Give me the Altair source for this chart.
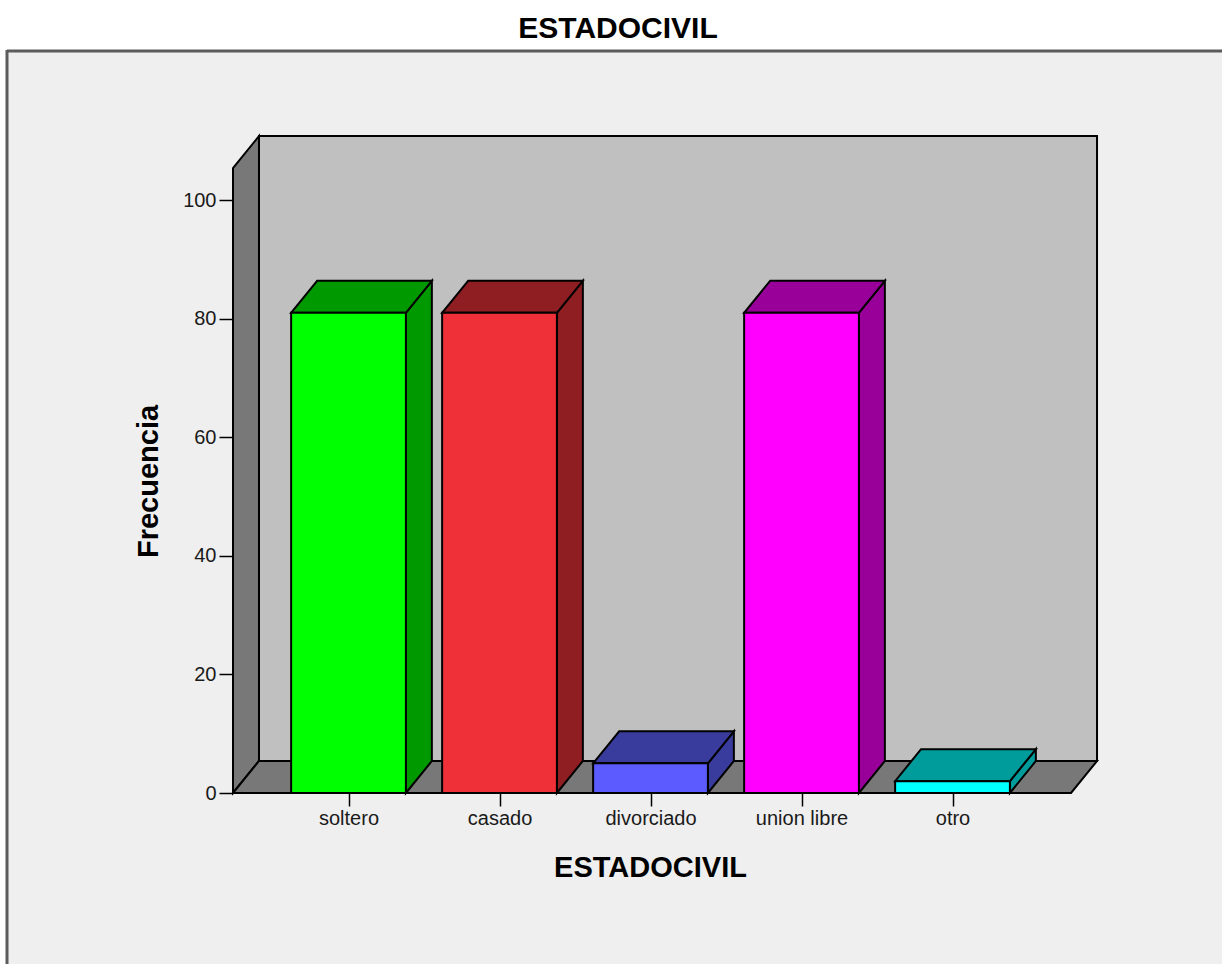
import json

import altair as alt
import pandas as pd

# Frequencies of marital status
categorias = ["soltero", "casado", "divorciado", "union libre", "otro"]
frecuencias = [81, 81, 5, 81, 2]
color_frente = ["#00ff00", "#ef3039", "#5b5bff", "#ff00ff", "#00ffff"]
color_cara = ["#009a00", "#8e1e22", "#393c9c", "#990099", "#009c9c"]
marcas_y = [0, 20, 40, 60, 80, 100]

# Geometry of the 3-D box, in axis units (x: category steps, y: frequency)
PRIMER_CENTRO = 0.765   # centre of the first bar, measured from the left wall
MEDIO_ANCHO = 0.38      # half width of a bar
PROF_X = 0.172          # depth offset along x
PROF_Y = 5.4            # depth offset along y
PISO_FIN = 5.55         # right end of the floor's front edge
PARED_ALTO = 105.4      # height of the left wall's front edge

FUENTE = "Liberation Sans"

centros = [PRIMER_CENTRO + i for i in range(len(categorias))]

# front faces of the bars
frente = pd.DataFrame({
    "categoria": categorias,
    "x0": [c - MEDIO_ANCHO for c in centros],
    "x1": [c + MEDIO_ANCHO for c in centros],
    "base": [0] * len(categorias),
    "frecuencia": frecuencias,
    "color": color_frente,
})

# top faces: parallelograms with horizontal edges
tapas_filas = []
for i, (c, v, col) in enumerate(zip(centros, frecuencias, color_cara)):
    tapas_filas.append({"id": i, "y": v, "xa": c - MEDIO_ANCHO, "xb": c + MEDIO_ANCHO, "color": col})
    tapas_filas.append({"id": i, "y": v + PROF_Y, "xa": c - MEDIO_ANCHO + PROF_X,
                        "xb": c + MEDIO_ANCHO + PROF_X, "color": col})
tapas = pd.DataFrame(tapas_filas)

# right side faces: parallelograms with vertical edges
lados_filas = []
for i, (c, v, col) in enumerate(zip(centros, frecuencias, color_cara)):
    lados_filas.append({"id": i, "x": c + MEDIO_ANCHO, "ya": 0, "yb": v, "color": col})
    lados_filas.append({"id": i, "x": c + MEDIO_ANCHO + PROF_X, "ya": PROF_Y,
                        "yb": v + PROF_Y, "color": col})
lados = pd.DataFrame(lados_filas)

piso = pd.DataFrame({
    "y": [0, PROF_Y],
    "xa": [0, PROF_X],
    "xb": [PISO_FIN, PISO_FIN + PROF_X],
})
pared_izq = pd.DataFrame({
    "x": [0, PROF_X],
    "ya": [0, PROF_Y],
    "yb": [PARED_ALTO, PARED_ALTO + PROF_Y],
})
pared_fondo = pd.DataFrame({
    "x0": [PROF_X], "x1": [PISO_FIN + PROF_X],
    "y0": [PROF_Y], "y1": [PARED_ALTO + PROF_Y],
})

xs = alt.Scale(domain=[0, 6], nice=False, zero=False)
ys = alt.Scale(domain=[0, 112], nice=False, zero=False)

etiquetas_x = f"{json.dumps(categorias)}[round(datum.value - {PRIMER_CENTRO})]"

eje_comun = dict(
    domain=False, grid=False, ticks=True, tickColor="black", tickWidth=1.5,
    labelFont=FUENTE, labelFontSize=20, labelColor="#1a1a1a",
    titleFont=FUENTE, titleFontSize=29, titleFontWeight="bold", titleColor="black",
    titleAlign="center", titleBaseline="middle", labelFlush=False,
)
# the same axis definition is given to every layer so that they merge cleanly
eje_x = alt.Axis(
    values=centros, labelExpr=etiquetas_x, title="ESTADOCIVIL",
    tickSize=13, labelPadding=2, labelOverlap=False,
    titleX=417, titleY=74, **eje_comun,
)
eje_y = alt.Axis(
    values=marcas_y, title="Frecuencia", tickSize=14, labelPadding=3,
    titleX=-85, titleY=352, titleAngle=270, **eje_comun,
)

BORDE = dict(stroke="black", strokeWidth=2, strokeJoin="miter")
uno = pd.DataFrame({"k": [0]})

# white margin above and to the left of the grey panel, and the panel's border
franja_sup = alt.Chart(uno).mark_rect(fill="white").encode(
    x=alt.value(-240), x2=alt.value(1000), y=alt.value(-140), y2=alt.value(-78)
)
franja_izq = alt.Chart(uno).mark_rect(fill="white").encode(
    x=alt.value(-240), x2=alt.value(-226), y=alt.value(-78), y2=alt.value(860)
)
borde_sup = alt.Chart(uno).mark_rule(color="#5c5c5c", strokeWidth=3).encode(
    x=alt.value(-226), x2=alt.value(1000), y=alt.value(-78)
)
borde_izq = alt.Chart(uno).mark_rule(color="#5c5c5c", strokeWidth=3).encode(
    x=alt.value(-226), y=alt.value(-79), y2=alt.value(860)
)
titulo = alt.Chart(uno).mark_text(
    text="ESTADOCIVIL", font=FUENTE, fontSize=30, fontWeight="bold", color="black",
    align="center", baseline="alphabetic",
).encode(x=alt.value(385), y=alt.value(-91))

fondo = alt.Chart(pared_fondo).mark_rect(fill="#c0c0c0", **BORDE).encode(
    x=alt.X("x0:Q", scale=xs, axis=eje_x), x2="x1:Q",
    y=alt.Y("y0:Q", scale=ys, axis=eje_y), y2="y1:Q",
)

izquierda = alt.Chart(pared_izq).mark_area(
    orient="vertical", fill="#787878", **BORDE
).encode(
    x=alt.X("x:Q", scale=xs, axis=eje_x),
    y=alt.Y("ya:Q", scale=ys, axis=eje_y, stack=False), y2="yb:Q",
)

suelo = alt.Chart(piso).mark_area(
    orient="horizontal", fill="#787878", **BORDE
).encode(
    y=alt.Y("y:Q", scale=ys, axis=eje_y),
    x=alt.X("xa:Q", scale=xs, axis=eje_x, stack=False), x2="xb:Q",
)

caras = alt.Chart(lados).mark_area(orient="vertical", **BORDE).encode(
    x=alt.X("x:Q", scale=xs, axis=eje_x),
    y=alt.Y("ya:Q", scale=ys, axis=eje_y, stack=False), y2="yb:Q",
    color=alt.Color("color:N", scale=None),
    detail="id:N",
)

techos = alt.Chart(tapas).mark_area(orient="horizontal", **BORDE).encode(
    y=alt.Y("y:Q", scale=ys, axis=eje_y),
    x=alt.X("xa:Q", scale=xs, axis=eje_x, stack=False), x2="xb:Q",
    color=alt.Color("color:N", scale=None),
    detail="id:N",
)

barras = alt.Chart(frente).mark_rect(**BORDE).encode(
    x=alt.X("x0:Q", scale=xs, axis=eje_x), x2="x1:Q",
    y=alt.Y("base:Q", scale=ys, axis=eje_y), y2="frecuencia:Q",
    color=alt.Color("color:N", scale=None),
)

chart = alt.layer(
    franja_sup, franja_izq, borde_sup, borde_izq, titulo,
    fondo, izquierda, suelo, caras, techos, barras,
).properties(
    width=906,
    height=664,
    padding={"left": 233, "top": 129, "right": 83, "bottom": 171},
    autosize=alt.AutoSizeParams(type="none"),
    background="#efefef",
).configure_view(strokeWidth=0)

chart.save("out.html", embed_options={"renderer": "svg", "actions": False})
